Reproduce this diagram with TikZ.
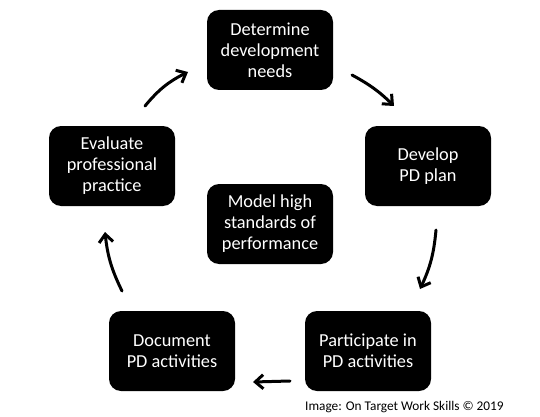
\documentclass[tikz,border=0pt]{standalone}
\usepackage{fontspec}
\setmainfont{Carlito}
\usetikzlibrary{arrows.meta}
\begin{document}
\begin{tikzpicture}[x=1pt,y=-1pt,
  stepbox/.style={fill=black,text=white,rounded corners=12pt,minimum width=126pt,minimum height=80pt,
    align=center,inner sep=0pt,font=\fontsize{18.3}{21}\selectfont},
  cyc/.style={line width=3pt,line cap=round,-{Straight Barb[length=8pt,width=14pt,line width=3pt]}}]
\useasboundingbox (0,0) rectangle (540,417);
\node[stepbox] (det) at (270,50) {Determine\\development\\needs};
\node[stepbox] (dev) at (428,166) {Develop\\PD plan};
\node[stepbox] (par) at (368,351) {Participate in\\PD activities};
\node[stepbox] (doc) at (172,351) {Document\\PD activities};
\node[stepbox] (eva) at (112,166) {Evaluate\\professional\\practice};
\node[stepbox] (mod) at (270,224) {Model high\\standards of\\performance};
\coordinate (a1s) at (145,106); \coordinate (a1e) at (188,72);
\coordinate (a2s) at (352,75); \coordinate (a2e) at (394,106);
\coordinate (a3s) at (436,230); \coordinate (a3e) at (420,289);
\coordinate (a4s) at (290,381); \coordinate (a4e) at (253,382);
\coordinate (a5s) at (122,291); \coordinate (a5e) at (105,232);
\draw[cyc] (a1s) to[bend left=12] (a1e);
\draw[cyc] (a2s) to[bend left=8] (a2e);
\draw[cyc] (a3s) to[bend left=10] (a3e);
\draw[cyc] (a4s) to (a4e);
\draw[cyc] (a5s) to[bend left=10] (a5e);
\node[anchor=west,font=\fontsize{13.3}{15}\selectfont,inner sep=0pt] (cred) at (305,407) {Image: On Target Work Skills © 2019};
\end{tikzpicture}
\end{document}
